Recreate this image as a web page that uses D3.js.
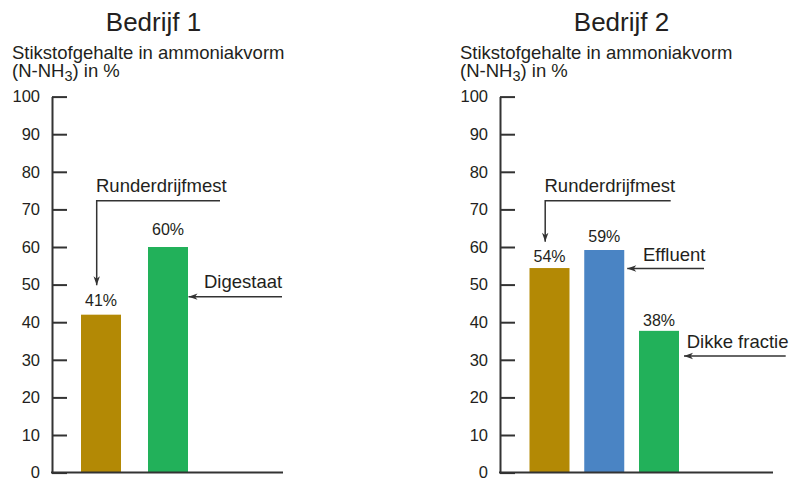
<!DOCTYPE html>
<html>
<head>
<meta charset="utf-8">
<script src="https://cdn.jsdelivr.net/npm/d3@7"></script>
<style>
  html, body { margin: 0; padding: 0; background: #fff; }
  svg { display: block; }
  text { font-family: "Liberation Sans", Arial, Helvetica, sans-serif; fill: #231f20; }
</style>
</head>
<body>
<svg id="chart" width="790" height="479"></svg>
<script>
// ---- data ----
const companies = ["Bedrijf 1", "Bedrijf 2"];
const categories1 = ["Runderdrijfmest", "Digestaat"];
const values1 = [42, 60];
const labels1 = ["41%", "60%"];
const categories2 = ["Runderdrijfmest", "Effluent", "Dikke fractie"];
const values2 = [54.4, 59.2, 37.7];
const labels2 = ["54%", "59%", "38%"];
const yTicks = [0, 10, 20, 30, 40, 50, 60, 70, 80, 90, 100];
const yTitleLine1 = "Stikstofgehalte in ammoniakvorm";

// ---- styles ----
const colorMap = {
  "Runderdrijfmest": "#b38905",
  "Digestaat": "#22b15a",
  "Effluent": "#4a84c4",
  "Dikke fractie": "#22b15a"
};
const ink = "#333333";

const svg = d3.select("#chart");

const defs = svg.append("defs");
defs.append("marker")
  .attr("id", "arrow")
  .attr("markerUnits", "userSpaceOnUse")
  .attr("viewBox", "-10 -5 12 10")
  .attr("refX", 0).attr("refY", 0)
  .attr("markerWidth", 12).attr("markerHeight", 10)
  .attr("orient", "auto")
  .append("path")
  .attr("d", "M0,0 L-9,-3.2 L-6.5,0 L-9,3.2 Z")
  .attr("fill", ink);

const y = d3.scaleLinear().domain([0, 100]).range([472.6, 96.6]);

const panels = [
  {
    title: companies[0], titleX: 153.5,
    axisX: 52, endX: 283,
    cats: categories1, vals: values1, labs: labels1,
    centers: [101, 168], barW: 40,
    labelGap: [9, 12],
    drop: { cat: 0, textDx: -5, lineStart: 168, lineV: 72.3, tipV: 49.8, textV: 74.6 },
    side: [
      { cat: 1, text: "Digestaat", textX: 152, textV: 49.0, arrowV: 46.8, start: 230, gap: 0.5 }
    ]
  },
  {
    title: companies[1], titleX: 621.5,
    axisX: 500, endX: 773,
    cats: categories2, vals: values2, labs: labels2,
    centers: [549.5, 604, 659], barW: 40,
    labelGap: [6.5, 8, 5],
    drop: { cat: 0, textDx: -5, lineStart: 170.7, lineV: 72.3, tipV: 61.4, textV: 74.6 },
    side: [
      { cat: 1, text: "Effluent", textX: 143, textV: 56.4, arrowV: 54.3, start: 204, gap: 3 },
      { cat: 2, text: "Dikke fractie", textX: 186.7, textV: 33.1, arrowV: 31.0, start: 285.7, gap: 5 }
    ]
  }
];

panels.forEach(p => {
  const g = svg.append("g");

  // title
  g.append("text")
    .attr("x", p.titleX).attr("y", 31)
    .attr("text-anchor", "middle")
    .attr("font-size", 26)
    .text(p.title);

  // y axis title
  const tx = p.axisX - 40;
  g.append("text").attr("x", tx).attr("y", 59).attr("font-size", 18.5).text(yTitleLine1);
  const t2 = g.append("text").attr("x", tx).attr("y", 77).attr("font-size", 18.5);
  t2.append("tspan").text("(N-NH");
  t2.append("tspan").attr("font-size", 14.5).attr("dy", 4).text("3");
  t2.append("tspan").attr("dy", -4).text(") in %");

  // x scale (category centers)
  const x = d3.scalePoint().domain(p.cats).range([p.centers[0], p.centers[p.centers.length - 1]]);

  // bars
  g.selectAll("rect.bar").data(p.cats).enter().append("rect")
    .attr("class", "bar")
    .attr("x", d => x(d) - p.barW / 2)
    .attr("width", p.barW)
    .attr("y", (d, i) => y(p.vals[i]))
    .attr("height", (d, i) => y(0) - y(p.vals[i]))
    .attr("fill", d => colorMap[d]);

  // value labels
  g.selectAll("text.val").data(p.cats).enter().append("text")
    .attr("class", "val")
    .attr("x", d => x(d))
    .attr("y", (d, i) => y(p.vals[i]) - p.labelGap[i])
    .attr("text-anchor", "middle")
    .attr("font-size", 16)
    .text((d, i) => p.labs[i]);

  // y axis
  const axis = d3.axisLeft(y).tickValues(yTicks)
    .tickSizeInner(-15).tickSizeOuter(0).tickPadding(12)
    .tickFormat(d3.format("d"));
  const ag = g.append("g").attr("transform", `translate(${p.axisX},0)`).call(axis);
  ag.selectAll("path, line").attr("stroke", ink).attr("stroke-width", 2);
  ag.selectAll("text").attr("font-size", 16.5).attr("fill", "#231f20")
    .style("font-family", '"Liberation Sans", Arial, sans-serif');

  // baseline
  g.append("line")
    .attr("x1", p.axisX - 1).attr("x2", p.endX)
    .attr("y1", y(0)).attr("y2", y(0))
    .attr("stroke", ink).attr("stroke-width", 2);

  // drop annotation (label above, arrow down)
  const dcat = p.cats[p.drop.cat];
  const vx = x(dcat) - 4.3;
  g.append("text")
    .attr("x", x(dcat) + p.drop.textDx).attr("y", y(p.drop.textV))
    .attr("font-size", 18.5).text(dcat);
  g.append("path")
    .attr("d", `M${p.axisX + p.drop.lineStart},${y(p.drop.lineV)} H${vx} V${y(p.drop.tipV)}`)
    .attr("fill", "none").attr("stroke", ink).attr("stroke-width", 1.5)
    .attr("marker-end", "url(#arrow)");

  // side annotations (label right, arrow left)
  p.side.forEach(s => {
    const c = p.cats[s.cat];
    g.append("text")
      .attr("x", p.axisX + s.textX).attr("y", y(s.textV))
      .attr("font-size", 18.5).text(s.text);
    g.append("path")
      .attr("d", `M${p.axisX + s.start},${y(s.arrowV)} H${x(c) + p.barW / 2 + s.gap}`)
      .attr("fill", "none").attr("stroke", ink).attr("stroke-width", 1.5)
      .attr("marker-end", "url(#arrow)");
  });
});
</script>
</body>
</html>
